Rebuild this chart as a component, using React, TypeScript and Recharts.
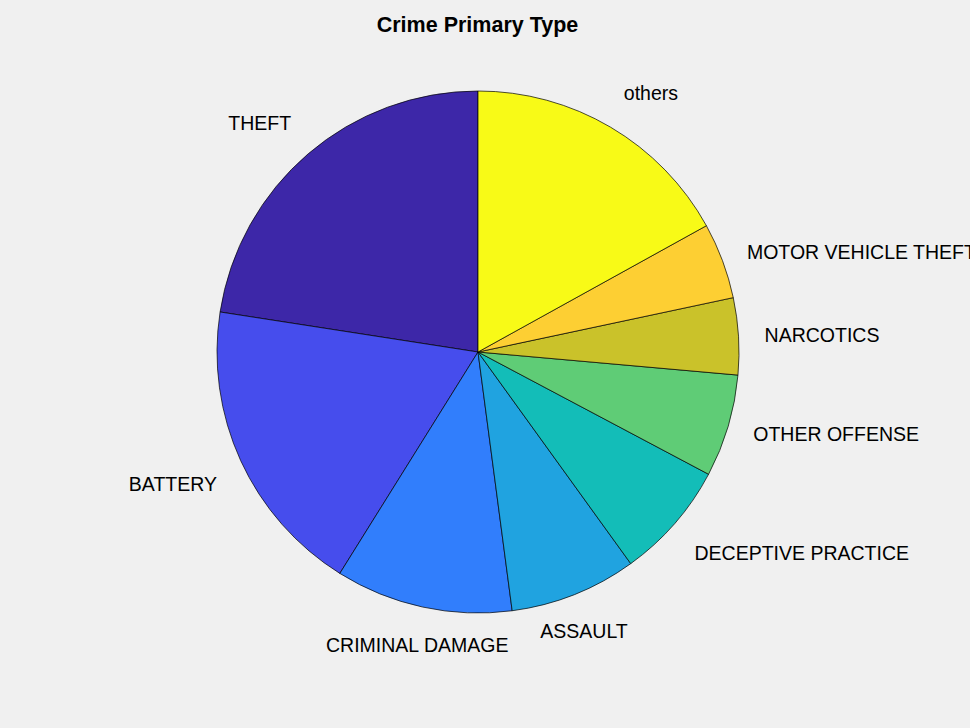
import { Cell, Pie, PieChart } from "recharts";

const categories = [
  "THEFT",
  "BATTERY",
  "CRIMINAL DAMAGE",
  "ASSAULT",
  "DECEPTIVE PRACTICE",
  "OTHER OFFENSE",
  "NARCOTICS",
  "MOTOR VEHICLE THEFT",
  "others",
];
const shares = [22.55, 18.57, 10.97, 7.86, 7.29, 6.35, 4.75, 4.7, 16.96];
const colors = [
  "#3d27a8",
  "#464ded",
  "#317efc",
  "#20a3e0",
  "#13bdb8",
  "#5fcc76",
  "#cac22a",
  "#fdcf33",
  "#f8fa17",
];

const data = categories.map((name, i) => ({ name, value: shares[i] }));

const FS = 19.5;
const RAD = Math.PI / 180;

function renderLabel(props: any) {
  const { cx, cy, midAngle, outerRadius, name } = props;
  const a = ((midAngle % 360) + 360) % 360;
  const r = outerRadius * 1.1;
  const x = cx + r * Math.cos(a * RAD);
  const y = cy - r * Math.sin(a * RAD);

  // matlab-ish 8 direction alignment
  const nearVertical = Math.abs(a - 90) <= 22.5 || Math.abs(a - 270) <= 22.5;
  const nearHorizontal = a <= 22.5 || a >= 337.5 || Math.abs(a - 180) <= 22.5;
  const anchor = nearVertical ? "middle" : Math.cos(a * RAD) > 0 ? "start" : "end";
  let baseline = y + FS * 0.36;
  if (!nearHorizontal) {
    baseline = Math.sin(a * RAD) > 0 ? y - FS * 0.22 : y + FS * 0.98;
  }

  return (
    <text
      x={x}
      y={baseline}
      textAnchor={anchor}
      fontSize={FS}
      fontFamily="'Liberation Sans', Arial, sans-serif"
      fill="#000"
    >
      {name}
    </text>
  );
}

export default function App() {
  return (
    <div
      style={{
        position: "absolute",
        left: 0,
        top: 0,
        width: 970,
        height: 728,
        background: "#f0f0f0",
        overflow: "hidden",
      }}
    >
      <div
        style={{
          position: "absolute",
          left: 0,
          width: 955,
          top: 13,
          textAlign: "center",
          fontFamily: "'Liberation Sans', Arial, sans-serif",
          fontWeight: "bold",
          fontSize: 21.5,
          color: "#000",
        }}
      >
        Crime Primary Type
      </div>
      <PieChart
        width={970}
        height={728}
        margin={{ top: 0, right: 0, bottom: 0, left: 0 }}
        style={{ overflow: "visible" }}
      >
        <Pie
          data={data}
          dataKey="value"
          nameKey="name"
          cx={478}
          cy={352}
          outerRadius={261}
          startAngle={90}
          endAngle={450}
          stroke="#000"
          strokeWidth={0.7}
          label={renderLabel}
          labelLine={false}
          isAnimationActive={false}
        >
          {data.map((d, i) => (
            <Cell key={d.name} fill={colors[i]} />
          ))}
        </Pie>
      </PieChart>
    </div>
  );
}
